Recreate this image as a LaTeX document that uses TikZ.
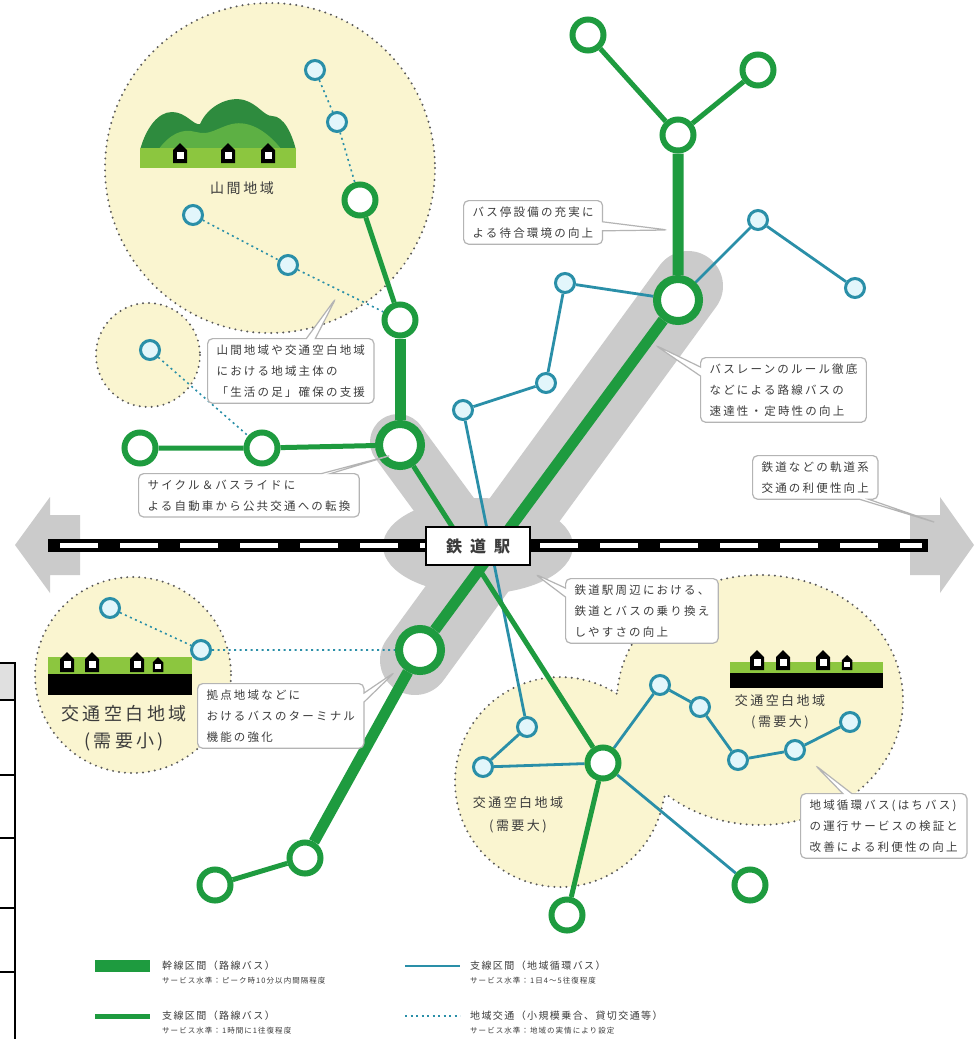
\documentclass[tikz,border=0pt]{standalone}
\usepackage{fontspec}
\setmainfont{Noto Sans CJK JP}
\newfontfamily\jpnote{Noto Sans CJK JP}[LetterSpace=19]
\newfontfamily\jplegend{Noto Sans CJK JP}[LetterSpace=14]
\usetikzlibrary{positioning,shapes.callouts}

\definecolor{busgreen}{HTML}{1E9B3F}
\definecolor{busteal}{HTML}{2A8FA8}
\definecolor{stopfill}{HTML}{E2F6FB}
\definecolor{areafill}{HTML}{FAF5D0}
\definecolor{bandgray}{HTML}{CBCBCB}
\definecolor{notegray}{HTML}{B4B4B4}
\definecolor{inkgray}{HTML}{3C3C3C}
\definecolor{hillgreen}{HTML}{2E8B3E}
\definecolor{hilllight}{HTML}{5DB044}
\definecolor{grass}{HTML}{8CC63F}

\pgfdeclarelayer{back}
\pgfdeclarelayer{lines}
\pgfsetlayers{back,lines,main}

\tikzset{
  house/.pic={
    \fill[black] (-7,0) -- (-7,-13) -- (0,-20) -- (7,-13) -- (7,0) -- cycle;
    \fill[white] (-3.5,-11) rectangle (3.5,-4);
  }
}

\begin{document}
\begin{tikzpicture}[x=1pt, y=-1pt,
  trunk/.style={busgreen, line width=11pt},
  branch/.style={busgreen, line width=5pt},
  loopline/.style={busteal, line width=2.8pt},
  localline/.style={busteal, line width=1.6pt, dash pattern=on 2pt off 3.5pt},
  gstop/.style={circle, draw=busgreen, line width=6pt, fill=white, minimum size=31pt, inner sep=0pt},
  hub/.style={gstop, line width=8pt, minimum size=42pt},
  bstop/.style={circle, draw=busteal, line width=3pt, fill=stopfill, minimum size=19pt, inner sep=0pt},
  area/.style={fill=areafill, draw=black!65, line width=2.2pt, dash pattern=on 0pt off 6pt, line cap=round},
  band/.style={bandgray, line cap=round},
  note/.style={rectangle callout, draw=notegray, line width=1.2pt, fill=white, rounded corners=5pt,
    callout pointer width=9pt, align=left, anchor=north west, inner xsep=9pt, inner ysep=6pt,
    text=inkgray, font=\jpnote\fontsize{11.5}{21}\selectfont},
  legend/.style={anchor=west, inner sep=0pt, text=inkgray, font=\jplegend\fontsize{10}{12}\selectfont},
  legendsub/.style={legend, font=\jplegend\fontsize{7.5}{9}\selectfont},
  arealabel/.style={text=inkgray, align=center, font=\jpnote\fontsize{13}{21}\selectfont}
]
\useasboundingbox (0,0) rectangle (976,1039);

% stops
\node[gstop] (g1) at (588,35) {};
\node[gstop] (g2) at (758,70) {};
\node[gstop] (g3) at (678,135) {};
\node[hub]   (g4) at (678,300) {};
\node[gstop] (g5) at (360,200) {};
\node[gstop] (g6) at (400,320) {};
\node[hub]   (g7) at (400,445) {};
\node[gstop] (g8) at (262,448) {};
\node[gstop] (g9) at (140,448) {};
\node[hub]   (g10) at (420,650) {};
\node[gstop] (g11) at (305,858) {};
\node[gstop] (g12) at (215,885) {};
\node[gstop] (g13) at (603,763) {};
\node[gstop] (g14) at (567,915) {};
\node[gstop] (g15) at (750,885) {};

\node[bstop] (b1) at (315,70) {};
\node[bstop] (b2) at (337,122) {};
\node[bstop] (b3) at (193,215) {};
\node[bstop] (b4) at (288,265) {};
\node[bstop] (b5) at (150,350) {};
\node[bstop] (b6) at (110,608) {};
\node[bstop] (b7) at (201,650) {};
\node[bstop] (b8) at (565,283) {};
\node[bstop] (b9) at (546,383) {};
\node[bstop] (b10) at (463,410) {};
\node[bstop] (b11) at (758,220) {};
\node[bstop] (b12) at (855,288) {};
\node[bstop] (b13) at (527,727) {};
\node[bstop] (b14) at (483,767) {};
\node[bstop] (b15) at (660,685) {};
\node[bstop] (b16) at (700,707) {};
\node[bstop] (b17) at (738,760) {};
\node[bstop] (b18) at (795,750) {};
\node[bstop] (b19) at (850,722) {};

\node[draw=black, line width=1.5pt, fill=white, minimum width=104pt, minimum height=38pt,
  text=inkgray, font=\bfseries\fontsize{16}{18}\selectfont] (station) at (478,546)
  {鉄\hspace{8pt}道\hspace{8pt}駅};

% base: table edge, areas, gray bands, scenery
\begin{pgfonlayer}{back}
  \fill[white] (0,0) rectangle (976,1039);
  \foreach \y in {663,700,775,838,908,972}
    \draw[black, line width=1.8pt] (0,\y) -- (15,\y);
  \fill[black!12] (0,664) rectangle (14,699);
  \draw[black, line width=1.8pt] (15,662) -- (15,1039);

  \draw[area] (270,168) circle[radius=165];
  \draw[area] (148,355) circle[radius=52];
  \draw[area] (133,675) circle[radius=98];
  \draw[area] (616.6,693.6) arc[start angle=-57.4, end angle=-351.5, radius=105]
    -- (666.2,794.3) arc[start angle=131, end angle=-176.8, x radius=143, y radius=125] -- cycle;

  \draw[band, line width=70pt] (688,286) -- (415,660);
  \draw[band, line width=56pt] (398,442) -- (470,540);
  \fill[bandgray] (station.center) ellipse[x radius=95, y radius=48];
  \fill[bandgray] (15,545) -- (50,497) -- (50,515) -- (80,515) -- (80,575) -- (50,575) -- (50,593) -- cycle;
  \fill[bandgray] (974,545) -- (940,497) -- (940,515) -- (910,515) -- (910,575) -- (940,575) -- (940,593) -- cycle;

  % mountains
  \fill[hillgreen] (140,150) .. controls (146,128) and (158,112) .. (172,112)
    .. controls (186,112) and (194,126) .. (200,124) .. controls (208,106) and (228,96) .. (244,100)
    .. controls (258,104) and (264,116) .. (272,116) .. controls (284,116) and (292,134) .. (296,150) -- cycle;
  \fill[hilllight] (158,150) .. controls (170,134) and (182,128) .. (196,132)
    .. controls (210,136) and (216,128) .. (232,124) .. controls (250,120) and (268,132) .. (282,150) -- cycle;
  \fill[grass] (140,148) rectangle (296,168);
  \foreach \x in {180,228,268} \pic at (\x,163) {house};

  \fill[grass] (48,657) rectangle (192,674);
  \fill[black] (48,674) rectangle (192,695);
  \foreach \x in {67,92,137} \pic at (\x,672) {house};
  \pic[scale=0.75] at (158,672) {house};

  \fill[grass] (730,662) rectangle (883,673);
  \fill[black] (730,673) rectangle (883,688);
  \foreach \x in {757,783,823} \pic at (\x,670) {house};
  \pic[scale=0.75] at (847,670) {house};
\end{pgfonlayer}

% routes and the railway
\begin{pgfonlayer}{lines}
  \draw[localline] (b1) -- (b2) -- (g5);
  \draw[localline] (b3) -- (b4) -- (g6);
  \draw[localline] (b5) -- (g8);
  \draw[localline] (b6) -- (b7) -- (g10);

  \draw[loopline] (g4) -- (b8) -- (b9) -- (b10) -- (b13) -- (b14) -- (g13);
  \draw[loopline] (g4) -- (b11) -- (b12);
  \draw[loopline] (g13) -- (b15) -- (b16) -- (b17) -- (b18) -- (b19);
  \draw[loopline] (g13) -- (g15);

  \draw[branch] (g1) -- (g3) -- (g2);
  \draw[branch] (g5) -- (g6);
  \draw[branch] (g9) -- (g8) -- (g7);
  \draw[branch] (g7) -- (g13) -- (g14);
  \draw[branch] (g11) -- (g12);
  \draw[trunk] (g3) -- (g4) -- (g10) -- (g11);
  \draw[trunk] (g6) -- (g7);

  \draw[black, line width=13pt] (48,545) -- (928,545);
  \draw[white, line width=5pt, dash pattern=on 38pt off 22pt] (60,545) -- (922,545);
\end{pgfonlayer}

% area names
\node[arealabel, font=\jpnote\fontsize{14}{17}\selectfont] (mountain) at (242,188) {山間地域};
\node[arealabel, font=\jpnote\fontsize{18}{27}\selectfont] (westlow) at (124,728) {交通空白地域\\(需要小)};
\node[arealabel] (easthigh) at (780,712) {交通空白地域\\(需要大)};
\node[arealabel, font=\jpnote\fontsize{13}{23}\selectfont] (southhigh) at (518,815) {交通空白地域\\(需要大)};

% notes
\coordinate (p1) at (668,230);
\coordinate (p2) at (336,298);
\coordinate (p3) at (655,345);
\coordinate (p4) at (392,455);
\coordinate (p5) at (937,523);
\coordinate (p6) at (535,574);
\coordinate (p7) at (395,672);
\coordinate (p8) at (815,765);

\node[note, callout absolute pointer={(p1)}] (n1) at (463,200) {バス停設備の充実に\\よる待合環境の向上};
\node[note, callout absolute pointer={(p2)}] (n2) at (207,338) {山間地域や交通空白地域\\における地域主体の\\「生活の足」確保の支援};
\node[note, callout absolute pointer={(p3)}] (n3) at (700,357) {バスレーンのルール徹底\\などによる路線バスの\\速達性・定時性の向上};
\node[note, callout absolute pointer={(p4)}] (n4) at (138,473) {サイクル＆バスライドに\\よる自動車から公共交通への転換};
\node[note, callout absolute pointer={(p5)}] (n5) at (752,455) {鉄道などの軌道系\\交通の利便性向上};
\node[note, callout absolute pointer={(p6)}] (n6) at (565,578) {鉄道駅周辺における、\\鉄道とバスの乗り換え\\しやすさの向上};
\node[note, callout absolute pointer={(p7)}] (n7) at (197,683) {拠点地域などに\\おけるバスのターミナル\\機能の強化};
\node[note, callout absolute pointer={(p8)}] (n8) at (800,793) {地域循環バス(はちバス)\\の運行サービスの検証と\\改善による利便性の向上};

% legend
\coordinate (k1a) at (95,966);   \coordinate (k1b) at (150,966);
\coordinate (k2a) at (95,1016);  \coordinate (k2b) at (150,1016);
\coordinate (k3a) at (405,966);  \coordinate (k3b) at (460,966);
\coordinate (k4a) at (405,1016); \coordinate (k4b) at (460,1016);
\draw[trunk, line width=12pt] (k1a) -- (k1b);
\draw[branch] (k2a) -- (k2b);
\draw[loopline] (k3a) -- (k3b);
\draw[localline] (k4a) -- (k4b);
\node[legend] (t1) at (162,966) {幹線区間（路線バス）};
\node[legendsub] (s1) at (162,981) {サービス水準：ピーク時10分以内間隔程度};
\node[legend] (t2) at (162,1016) {支線区間（路線バス）};
\node[legendsub] (s2) at (162,1031) {サービス水準：1時間に1往復程度};
\node[legend] (t3) at (470,966) {支線区間（地域循環バス）};
\node[legendsub] (s3) at (470,981) {サービス水準：1日4～5往復程度};
\node[legend] (t4) at (470,1016) {地域交通（小規模乗合、貸切交通等）};
\node[legendsub] (s4) at (470,1031) {サービス水準：地域の実情により設定};
\end{tikzpicture}
\end{document}
